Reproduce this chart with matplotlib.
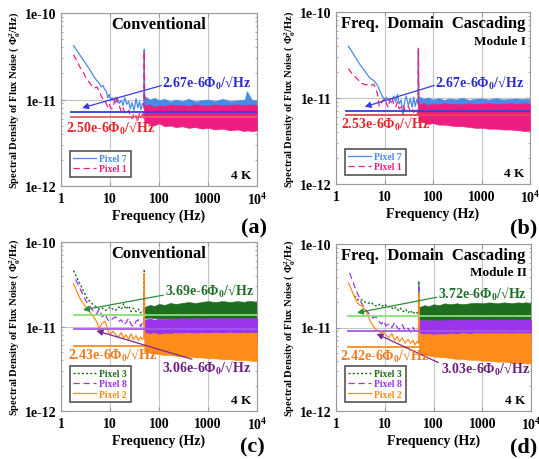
import numpy as np
import matplotlib
matplotlib.use("Agg")
import matplotlib.pyplot as plt
from matplotlib.ticker import LogLocator, NullFormatter

plt.rcParams['font.family'] = ['Liberation Serif', 'DejaVu Serif']
plt.rcParams['font.weight'] = 'bold'
plt.rcParams['axes.labelweight'] = 'bold'
plt.rcParams['mathtext.fontset'] = 'custom'
plt.rcParams['mathtext.rm'] = 'Liberation Serif:bold'
plt.rcParams['mathtext.it'] = 'Liberation Serif:bold:italic'
plt.rcParams['mathtext.bf'] = 'Liberation Serif:bold'

# axis ticks
X_TICKS = [1, 10, 100, 1000, 10000]
X_TICK_LABELS = ['1', '10', '100', '1000', r'$10^4$']
Y_TICKS = [1e-12, 1e-11, 1e-10]
Y_TICK_LABELS = ['1e-12', '1e-11', '1e-10']

# shared frequency grid of the white-noise band (Hz)
BAND_F = [50, 65, 80, 100, 130, 170, 220, 300, 400, 550, 750, 1000, 1400, 2000, 2800, 4000, 5600, 6200, 8000, 10000]

# low-frequency traces, values in 1e-12 Phi0^2/Hz
LF_F = [1.8, 2.1, 2.4, 2.8, 3.2, 3.7, 4.2, 4.8, 5.4, 6.0, 6.6, 7.2, 7.8, 8.4, 9.0, 9.6, 10.3, 11, 12, 13,
        14, 15.5, 17, 18.5, 20, 22, 24, 26, 28, 31, 34, 37, 40, 43, 46, 49, 50, 51, 53]

# (a) conventional, pixel 7 / pixel 1
A_P7_V = [42, 37, 33, 29, 26, 23, 20.5, 18, 16.5, 15.5, 14, 14.5, 13, 12.5, 10.5, 11.5, 9.8, 10.5, 10, 9.2,
          10.5, 9, 9.8, 8.5, 10.5, 8.8, 9.5, 7.8, 9.2, 7.5, 10.2, 8, 9.5, 7.6, 9, 8.5, 38, 9, 8.5]
A_P1_V = [33, 28, 24, 21, 18, 16, 14.5, 13.5, 14, 12.5, 11, 10, 9.5, 9, 8.2, 9, 8, 7.8, 9, 11,
          9.5, 8.5, 7.2, 8, 7, 6.8, 7.5, 6.5, 6, 7, 6.5, 5.5, 7, 6.2, 6.8, 6, 36, 6.5, 6]
A_P7_HI = [11, 10, 10.5, 9.8, 10.2, 9.5, 10, 9.6, 10.2, 9.5, 9.8, 10, 9.6, 10.2, 9.6, 9.8, 10, 12.5, 9.8, 9.6]
A_P7_LO = [7, 6.8, 6.5, 6.4, 6.5, 6.2, 6.3, 6.2, 6, 6.1, 6, 5.9, 6, 5.8, 5.9, 5.8, 5.7, 5.8, 5.7, 5.8]
A_P1_HI = [8.5, 8.8, 8.2, 8.6, 8.4, 8.8, 8.5, 8.7, 8.4, 8.8, 8.6, 8.5, 8.8, 8.6, 8.7, 8.8, 8.6, 8.7, 8.8, 8.6]
A_P1_LO = [5.5, 5.2, 5.0, 5.3, 4.9, 5.0, 4.8, 4.9, 4.7, 4.8, 4.6, 4.7, 4.5, 4.6, 4.4, 4.5, 4.3, 4.4, 4.3, 4.4]
A_ASD = [2.67, 2.50]

# (b) frequency domain cascading, module I
B_P7_V = [40, 35, 31, 27, 24, 21.5, 19.5, 17.5, 16.5, 16, 15, 14, 12.5, 11.5, 10.5, 10, 9.5, 10.2, 9.5, 9.2,
          8.8, 10.5, 9, 11, 8.5, 9.5, 6.2, 9, 10.5, 8.2, 9.8, 7.8, 10.2, 8, 9.5, 8.8, 38, 9, 8.5]
B_P1_V = [22, 19.5, 18, 16.5, 15, 14.5, 14.2, 14.5, 14, 14.5, 13, 11, 8, 8.5, 9.2, 9.5, 10, 8.5, 7.8, 9.5,
          10.5, 8.5, 7.8, 9, 7.5, 7.8, 8.5, 7.2, 7.8, 8, 7, 7.5, 6.8, 7.2, 6.5, 6.8, 38, 6.5, 6.2]
B_P7_HI = [10.5, 9.8, 10.2, 9.6, 10, 9.5, 9.9, 9.6, 10.1, 9.5, 9.8, 9.9, 9.6, 10, 9.6, 9.8, 9.9, 9.7, 9.8, 9.6]
B_P7_LO = [6.8, 6.6, 6.5, 6.3, 6.4, 6.2, 6.2, 6.1, 6, 6, 5.9, 5.8, 5.8, 5.7, 5.7, 5.6, 5.6, 5.6, 5.5, 5.5]
B_P1_HI = [8.4, 8.7, 8.3, 8.6, 8.4, 8.7, 8.5, 8.6, 8.4, 8.7, 8.5, 8.6, 8.7, 8.5, 8.6, 8.7, 8.5, 8.6, 8.7, 8.5]
B_P1_LO = [5.4, 5.2, 5.0, 5.1, 4.9, 4.9, 4.8, 4.7, 4.7, 4.6, 4.5, 4.5, 4.4, 4.4, 4.3, 4.3, 4.2, 4.2, 4.1, 4.2]
B_ASD = [2.67, 2.53]

# (c) conventional, pixel 3 / pixel 8 / pixel 2
C_P3_F = [1.8, 2.1, 2.5, 3.0, 3.5, 4.0, 4.6, 5.3, 6.0, 7.0, 8.0, 9.0, 10, 11.5, 13, 15, 17, 19, 21, 24,
          27, 30, 34, 38, 42, 46, 49, 50, 51, 53]
C_P3_V = [46, 38, 31, 25, 21, 19.5, 18, 17, 16, 16.5, 15.5, 16, 17, 16, 15.5, 17, 16, 18.5, 16, 17.5,
          15, 16.5, 15, 16, 14.5, 15.5, 15, 46, 15, 14]
C_P8_F = [2.0, 2.3, 2.7, 3.1, 3.5, 4.0, 4.6, 5.3, 6.0, 7.0, 8.0, 9.0, 10, 11.5, 13, 15, 17, 19, 21, 24,
          27, 30, 34, 38, 42, 46, 49, 50, 51, 53]
C_P8_V = [36, 30, 25, 21, 18.5, 17, 15, 14, 16, 13, 14, 12, 11.5, 12.5, 13, 11.5, 12, 10.5, 11, 12.5,
          10.5, 10, 11.5, 12, 10, 11, 10.5, 26, 10.5, 10]
C_P2_F = C_P3_F
C_P2_V = [32, 26, 21, 18, 16, 14.5, 13, 11.5, 9.5, 11, 11.5, 9, 8, 8.8, 8, 7.5, 8.5, 7.2, 8, 7,
          8.2, 7, 7.8, 6.8, 7.5, 7, 7.5, 42, 7.5, 6.8]
C_P3_HI = [17, 18, 17.5, 18.5, 18, 19, 18.5, 19, 19.5, 19, 19.5, 20, 19.5, 20, 19.5, 20, 19.5, 20, 20, 19.5]
C_P3_LO = [12.5, 12.8, 12.5, 12.6, 12.4, 12.5, 12.3, 12.2, 12.0, 12.1, 11.9, 11.8, 11.7, 11.6, 11.5, 11.4, 11.3, 11.2, 11.2, 11.1]
C_P8_HI = [12, 12.5, 12, 12.5, 12.2, 12.5, 12.3, 12.6, 12.4, 12.6, 12.4, 12.6, 12.5, 12.6, 12.5, 12.6, 12.5, 12.6, 12.5, 12.6]
C_P8_LO = [8, 7.8, 7.6, 7.5, 7.4, 7.3, 7.2, 7.1, 7.0, 7.0, 6.9, 6.8, 6.8, 6.7, 6.6, 6.6, 6.5, 6.5, 6.4, 6.4]
C_P2_HI = [8.5, 8.2, 8.4, 8.1, 8.3, 8.2, 8.4, 8.3, 8.5, 8.3, 8.5, 8.4, 8.5, 8.4, 8.5, 8.4, 8.5, 8.4, 8.5, 8.4]
C_P2_LO = [5.0, 4.9, 4.8, 4.7, 4.6, 4.6, 4.5, 4.4, 4.4, 4.3, 4.3, 4.2, 4.2, 4.1, 4.1, 4.0, 4.0, 4.0, 3.9, 3.9]
C_ASD = [3.69, 3.06, 2.43]

# (d) frequency domain cascading, module II
D_P3_F = [2.4, 2.7, 3.0, 3.5, 4.0, 4.6, 5.3, 6.0, 7.0, 8.0, 9.0, 10, 11.5, 13, 15, 17, 19, 21, 24, 27,
          30, 34, 38, 42, 46, 49, 50, 51, 53]
D_P3_V = [24, 22, 21, 21.5, 20, 19.5, 20, 18.5, 18, 19, 18, 19, 17.5, 18, 16.5, 17.5, 16, 17, 15.5, 16.5,
          15, 16, 14.5, 15.5, 15, 14.5, 36, 15, 14]
D_P8_F = [1.9, 2.2, 2.5, 2.9, 3.3, 3.8, 4.4, 5.0, 5.7, 6.5, 7.5, 8.5, 9.5, 10.5, 12, 14, 16, 18, 20, 23,
          26, 30, 34, 38, 42, 46, 49, 50, 51, 53]
D_P8_V = [45, 36, 29, 24, 20, 17, 15.5, 14, 13, 13.5, 12, 11, 12, 10.5, 11, 10, 11.5, 10, 9.5, 10.8,
          9.2, 9.8, 8.8, 10, 9, 9.5, 9.2, 30, 9.5, 9]
D_P2_F = [1.8, 2.0, 2.2, 2.5, 2.8, 3.1, 3.5, 4.0, 4.5, 5.0, 5.7, 6.5, 7.5, 8.5, 9.5, 10.5, 12, 14, 16, 18,
          20, 23, 26, 30, 34, 38, 42, 46, 49, 50, 51, 53]
D_P2_V = [34, 30, 26, 22, 19.5, 18.5, 18, 16, 14, 12, 10.5, 9.5, 9, 8.5, 8.8, 8.2, 7.5, 8.5, 7, 7.8,
          6.8, 7.5, 6.5, 7.2, 6.5, 7, 6.2, 6.8, 6.5, 26, 6.5, 6.2]
D_P3_HI = [17.5, 18.5, 18, 19, 18.5, 19.5, 19, 19.5, 19, 19.5, 19.8, 19.5, 20, 19.5, 20, 19.6, 20, 19.8, 20, 19.6]
D_P3_LO = [12.2, 12.4, 12.2, 12.1, 12.0, 12.0, 11.9, 11.8, 11.7, 11.6, 11.5, 11.4, 11.3, 11.2, 11.2, 11.1, 11.0, 11.0, 10.9, 10.9]
D_P8_HI = [12, 12.4, 12, 12.3, 12.1, 12.4, 12.2, 12.5, 12.3, 12.5, 12.3, 12.5, 12.4, 12.5, 12.4, 12.5, 12.4, 12.5, 12.4, 12.5]
D_P8_LO = [7.8, 7.6, 7.4, 7.3, 7.2, 7.1, 7.0, 6.9, 6.9, 6.8, 6.7, 6.7, 6.6, 6.5, 6.5, 6.4, 6.4, 6.3, 6.3, 6.3]
D_P2_HI = [8.6, 8.3, 8.5, 8.2, 8.4, 8.3, 8.5, 8.4, 8.6, 8.4, 8.6, 8.5, 8.6, 8.5, 8.6, 8.5, 8.6, 8.5, 8.6, 8.5]
D_P2_LO = [4.8, 4.7, 4.6, 4.5, 4.4, 4.4, 4.3, 4.2, 4.2, 4.1, 4.1, 4.0, 4.0, 3.9, 3.9, 3.8, 3.8, 3.8, 3.7, 3.7]
D_ASD = [3.72, 3.03, 2.42]

BLUE, PINK = '#4a8be8', '#ec1f80'
GREEN, PURPLE, ORANGE = '#1f6e1f', '#9b34ec', '#ff8c1a'

W, H = 539, 460
fig = plt.figure(figsize=(W / 100, H / 100), dpi=100)


def px_axes(x0, y0, x1, y1):
    return fig.add_axes([x0 / W, 1 - y1 / H, (x1 - x0) / W, (y1 - y0) / H])


def e12(v):
    return np.array(v) * 1e-12


def lvl_text(asd):
    return r'%.2fe-6$\Phi_0$/√Hz' % asd


def setup(ax, title, module=None):
    ax.set_xscale('log')
    ax.set_yscale('log')
    ax.set_xlim(1, 1e4)
    ax.set_ylim(1e-12, 1e-10)
    ax.set_xticks(X_TICKS, X_TICK_LABELS)
    ax.set_yticks(Y_TICKS, Y_TICK_LABELS)
    ax.xaxis.set_minor_locator(LogLocator(base=10, subs=range(2, 10)))
    ax.yaxis.set_minor_locator(LogLocator(base=10, subs=range(2, 10)))
    ax.xaxis.set_minor_formatter(NullFormatter())
    ax.yaxis.set_minor_formatter(NullFormatter())
    ax.tick_params(which='both', direction='in', top=True, right=True, color='#999999', labelsize=10)
    ax.tick_params(which='major', length=3)
    ax.tick_params(which='minor', length=1.5)
    ax.tick_params(axis='x', pad=4)
    ax.tick_params(axis='y', pad=3)
    for t in ax.get_xticklabels() + ax.get_yticklabels():
        t.set_fontweight('bold')
    ax.grid(True, which='major', color='#c4c4c4', lw=0.8)
    for s in ax.spines.values():
        s.set_color('#9a9a9a')
        s.set_linewidth(0.8)
    ax.set_xlabel('Frequency (Hz)', fontsize=10, fontweight='bold', labelpad=1)
    ax.set_ylabel(r'Spectral Density of Flux Noise ( $\Phi_0^2$/Hz)', fontsize=7.6, fontweight='bold', labelpad=2)
    ax.text(0.5, 0.935, title, transform=ax.transAxes, ha='center', va='center', fontsize=12,
            fontweight='bold', zorder=10)
    if module:
        ax.text(0.98, 0.83, module, transform=ax.transAxes, ha='right', va='center', fontsize=9.5,
                fontweight='bold', zorder=10)
    ax.text(0.97, 0.065, '4 K', transform=ax.transAxes, ha='right', va='center', fontsize=9.5,
            fontweight='bold', zorder=10)


def band(ax, hi, lo, color, z):
    ax.fill_between(BAND_F, e12(lo), e12(hi), color=color, lw=0.4, zorder=z)


def level(ax, asd, color, z, x0=1.7):
    v = (asd * 1e-6) ** 2
    ax.plot([x0, 1e4], [v, v], color=color, lw=1.3, zorder=z)


def note(ax, x, y, txt, color):
    ax.text(x, y, txt, color=color, fontsize=10, fontweight='bold', va='center', zorder=12)


def arrow(ax, tail, head, color):
    ax.annotate('', xy=head, xytext=tail,
                arrowprops=dict(arrowstyle='-|>', color=color, lw=0.9, mutation_scale=9, shrinkA=0, shrinkB=0),
                zorder=12)


def legend(ax):
    lg = ax.legend(loc='lower left', bbox_to_anchor=(0.02, 0.025), labelcolor='linecolor',
                   prop={'size': 7, 'weight': 'bold'},
                   handlelength=2.3, handletextpad=0.4, borderpad=0.35, labelspacing=0.12,
                   fancybox=False, framealpha=1)
    lg.get_frame().set_edgecolor('#555555')
    lg.get_frame().set_linewidth(1.2)
    lg.set_zorder(20)


# (a)
ax = px_axes(61, 14, 257, 187)
setup(ax, 'Conventional')
band(ax, A_P7_HI, A_P7_LO, BLUE, 2)
ax.plot(LF_F, e12(A_P7_V), color=BLUE, lw=0.9, zorder=3, label='Pixel 7')
band(ax, A_P1_HI, A_P1_LO, PINK, 4)
ax.plot(LF_F, e12(A_P1_V), color=PINK, lw=0.9, ls=(0, (5, 3)), zorder=5, label='Pixel 1')
level(ax, A_ASD[0], '#3a3ae6', 7, 1.6)
level(ax, A_ASD[1], '#e06060', 6, 1.6)
note(ax, 117, 1.56e-11, lvl_text(A_ASD[0]), '#2b2bc8')
arrow(ax, (112, 1.45e-11), (2.7, 8.0e-12), '#3a3ae6')
note(ax, 1.28, 4.8e-12, lvl_text(A_ASD[1]), '#e8222a')
legend(ax)

# (b)
ax = px_axes(336, 13, 530, 185)
setup(ax, 'Freq.  Domain  Cascading', 'Module I')
band(ax, B_P7_HI, B_P7_LO, BLUE, 2)
ax.plot(LF_F, e12(B_P7_V), color=BLUE, lw=0.9, zorder=3, label='Pixel 7')
band(ax, B_P1_HI, B_P1_LO, PINK, 4)
ax.plot(LF_F, e12(B_P1_V), color=PINK, lw=0.9, ls=(0, (5, 3)), zorder=5, label='Pixel 1')
level(ax, B_ASD[0], '#3a3ae6', 7, 1.6)
level(ax, B_ASD[1], '#e04848', 6, 1.6)
note(ax, 110, 1.5e-11, lvl_text(B_ASD[0]), '#2b2bc8')
arrow(ax, (106, 1.4e-11), (3.9, 7.9e-12), '#3a3ae6')
note(ax, 1.25, 5.1e-12, lvl_text(B_ASD[1]), '#e8222a')
legend(ax)

# (c)
ax = px_axes(61, 243, 257, 412)
setup(ax, 'Conventional')
band(ax, C_P3_HI, C_P3_LO, GREEN, 2)
ax.plot(C_P3_F, e12(C_P3_V), color=GREEN, lw=1.0, ls=(0, (1.5, 1.5)), zorder=3, label='Pixel 3')
band(ax, C_P8_HI, C_P8_LO, PURPLE, 4)
ax.plot(C_P8_F, e12(C_P8_V), color=PURPLE, lw=0.9, ls=(0, (5, 3)), zorder=5, label='Pixel 8')
band(ax, C_P2_HI, C_P2_LO, ORANGE, 6)
ax.plot(C_P2_F, e12(C_P2_V), color=ORANGE, lw=0.9, zorder=7, label='Pixel 2')
level(ax, C_ASD[0], '#86e07a', 8, 1.8)
level(ax, C_ASD[1], '#a45ae6', 8, 1.8)
level(ax, C_ASD[2], '#ff8c1a', 8, 1.8)
note(ax, 130, 2.7e-11, lvl_text(C_ASD[0]), '#1e6e2a')
arrow(ax, (122, 2.35e-11), (2.8, 1.57e-11), '#2e8b3a')
note(ax, 113, 3.3e-12, lvl_text(C_ASD[1]), '#6b1f7f')
arrow(ax, (470, 4.1e-12), (5.3, 8.9e-12), '#7a2a8a')
note(ax, 1.4, 4.7e-12, lvl_text(C_ASD[2]), '#f07a1a')
legend(ax)

# (d)
ax = px_axes(336, 245, 531, 412)
setup(ax, 'Freq.  Domain  Cascading', 'Module II')
band(ax, D_P3_HI, D_P3_LO, GREEN, 2)
ax.plot(D_P3_F, e12(D_P3_V), color=GREEN, lw=1.0, ls=(0, (1.5, 1.5)), zorder=3, label='Pixel 3')
band(ax, D_P8_HI, D_P8_LO, PURPLE, 4)
ax.plot(D_P8_F, e12(D_P8_V), color=PURPLE, lw=0.9, ls=(0, (5, 3)), zorder=5, label='Pixel 8')
band(ax, D_P2_HI, D_P2_LO, ORANGE, 6)
ax.plot(D_P2_F, e12(D_P2_V), color=ORANGE, lw=0.9, zorder=7, label='Pixel 2')
level(ax, D_ASD[0], '#86e07a', 8, 1.8)
level(ax, D_ASD[1], '#a45ae6', 8, 1.8)
level(ax, D_ASD[2], '#ff8c1a', 8, 1.8)
note(ax, 121, 2.56e-11, lvl_text(D_ASD[0]), '#1e6e2a')
arrow(ax, (116, 2.3e-11), (2.7, 1.5e-11), '#2e8b3a')
note(ax, 143, 3.2e-12, lvl_text(D_ASD[1]), '#6b1f7f')
arrow(ax, (125, 3.8e-12), (6.8, 8.4e-12), '#7a2a8a')
note(ax, 1.2, 4.6e-12, lvl_text(D_ASD[2]), '#f07a1a')
legend(ax)

# panel letters
for lab, x, y in [('(a)', 254, 228), ('(b)', 524, 228), ('(c)', 252, 447), ('(d)', 524, 447)]:
    fig.text(x / W, 1 - y / H, lab, ha='center', va='center', fontsize=16, fontweight='bold')

fig.savefig('out.png', dpi=100)
